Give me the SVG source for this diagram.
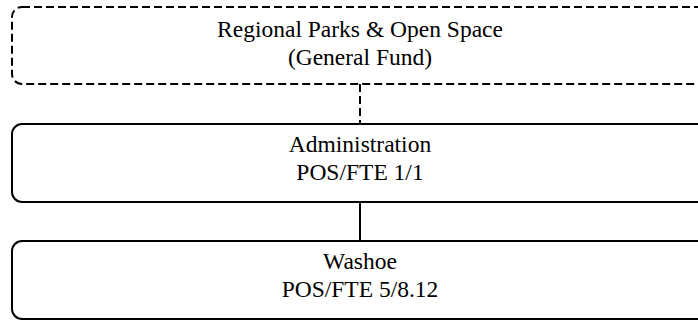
<svg xmlns="http://www.w3.org/2000/svg" width="698" height="322" viewBox="0 0 698 322">
<style>
.box{fill:#fff;stroke:#000;stroke-width:2}
.dash{stroke-dasharray:8 4}
.t{font-family:"Liberation Serif","Times New Roman",serif;font-size:23.5px;fill:#000;text-anchor:middle}
.c{stroke:#000;stroke-width:2;fill:none}
</style>
<rect width="698" height="322" fill="#fff"/>
<g id="connectors">
<line class="c dash" x1="360" y1="84" x2="360" y2="124"/>
<line class="c" x1="360" y1="202" x2="360" y2="241"/>
</g>
<g id="node-regional">
<rect class="box dash" x="12" y="7" width="696" height="77" rx="10"/>
<text class="t" x="360" y="36.7">Regional Parks &amp; Open Space</text>
<text class="t" x="360" y="65">(General Fund)</text>
</g>
<g id="node-admin">
<rect class="box" x="12" y="124" width="696" height="78" rx="10"/>
<text class="t" x="360" y="151.7">Administration</text>
<text class="t" x="360" y="180">POS/FTE 1/1</text>
</g>
<g id="node-washoe">
<rect class="box" x="12" y="241" width="696" height="78" rx="10"/>
<text class="t" x="360" y="268.7">Washoe</text>
<text class="t" x="360" y="297">POS/FTE 5/8.12</text>
</g>
</svg>
